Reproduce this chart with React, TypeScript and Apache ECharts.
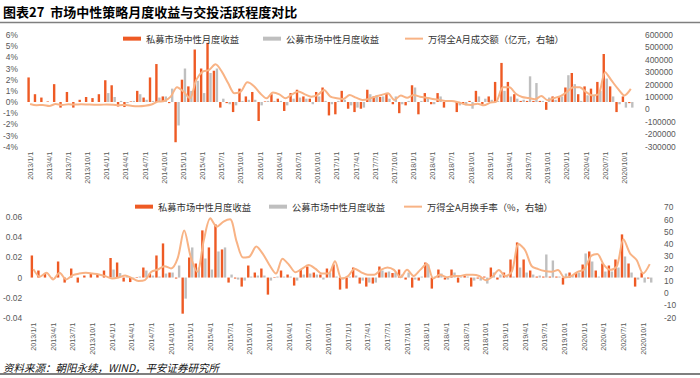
import React, { useEffect, useRef } from 'react';
import * as echarts from 'echarts';

// Categories: 2013/1/1 ... 2020/11/1 (monthly)
const FIRST_YEAR = 2013;
const LAST_YEAR = 2020;
const LAST_MONTH = 11;
function buildMonths(): string[] {
  const out: string[] = [];
  for (let y = FIRST_YEAR; y <= LAST_YEAR; y++) {
    for (let m = 1; m <= 12; m++) {
      if (y === LAST_YEAR && m > LAST_MONTH) break;
      out.push(`${y}/${m}/1`);
    }
  }
  return out;
}
const months = buildMonths();

// 私募市场中性月度收益 (%)
const privateRet = [
  2.2, 0.7, 0.4, 0.05, 1.6, -0.5, 0.9, -0.5, 0.2, 0.45, 0.35, 0.7,
  1.95, 1.5, -0.4, -0.45, 0.05, 1.0, 0.4, 2.2, 3.4, 0.5, -0.1, -3.6,
  2.0, 1.4, 4.7, 3.0, 5.3, 2.8, -0.5, -0.1, -0.9, 1.2, 0.5, 0.9,
  -1.7, 0.05, 0.7, 0.3, -0.8, 0.8, 1.1, 0.5, 0.3, 0.9, 1.3, -1.2,
  -1.1, 1.0, -0.6, -0.9, -0.6, 1.1, 0.5, 0.45, 0.8, -0.2, -1.0, -0.3,
  1.5, -1.1, 0.8, -0.2, 0.8, -0.5, 0.15, -0.9, -0.1, 0.1, 1.0, -0.2,
  0.5, 1.8, 3.5, 1.8, 0.7, 0.1, 0.1, 0.1, 0.1, -0.7, 0.5, 0.5,
  1.3, 2.6, 0.7, 1.4, 1.2, 1.8, 4.3, 1.4, -0.9, 0.5, -0.1,
];

// 公募市场中性月度收益 (%)
const publicRet = [
  null, null, null, null, null, null, null, null, null, null, null, null,
  0.8, 0.45, 0.1, -0.1, 0.1, 0.7, 0.2, 0.1, 0.4, 0.5, 1.2, -2.1,
  3.0, 1.0, 1.9, 0.8, 2.6, 3.0, 0.3, -0.2, -0.3, 0.1, 0.2, 0.2,
  -0.3, 0.1, 0.1, 0.1, -0.3, 0.3, 0.4, 0.3, -0.2, 0.5, 0.1, -0.2,
  0.1, 0.2, -0.3, -0.5, -0.5, 0.7, 0.6, 0.5, 0.3, 0.5, -0.2, 0.1,
  1.3, 0.1, 0.4, -0.2, 0.5, 0.1, 0.1, -0.3, -0.3, -0.6, 0.5, 0.3,
  0.2, 0.1, 1.0, 0.5, 0.3, 0.2, 2.3, 1.7, 0.1, 0.4, 0.2, 0.5,
  2.4, 1.6, 0.1, 0.6, 0.6, 1.0, 2.1, 0.5, -0.2, -0.5, -0.5,
];

// 万得全A月成交额（亿元）
const turnoverAmt = [
  44000, 34000, 36000, 28000, 44000, 36000, 42000, 40000, 42000, 40000, 38000, 38000,
  40000, 38000, 34000, 36000, 28000, 26000, 30000, 40000, 63000, 68000, 103000, 180000,
  144000, 90000, 238000, 305000, 318000, 364000, 305000, 211000, 130000, 144000, 219000, 190000,
  130000, 90000, 136000, 122000, 90000, 122000, 144000, 122000, 103000, 117000, 157000, 103000,
  90000, 85000, 117000, 95000, 77000, 85000, 103000, 117000, 130000, 77000, 112000, 95000,
  117000, 103000, 95000, 85000, 77000, 69000, 69000, 58000, 42000, 36000, 47000, 34000,
  55000, 66000, 180000, 180000, 126000, 100000, 92000, 82000, 108000, 74000, 92000, 108000,
  140000, 180000, 180000, 140000, 113000, 126000, 300000, 232000, 166000, 113000, 166000,
];

// 万得全A月换手率（%）
const turnoverRate = [
  19.6, 13.4, 16.6, 11.2, 16.6, 11.2, 14.7, 16, 16.6, 16, 15.3, 13.9,
  12, 12.8, 14.4, 12.3, 10, 10.6, 17.4, 19.3, 22, 20.2, 28.3, 51,
  29.7, 17.4, 43.3, 61, 54.2, 58.3, 60.2, 42, 29, 30, 38, 32,
  23, 16, 28, 23, 17, 20, 23, 20, 16, 16, 26, 12,
  14, 20, 17, 15, 15, 19, 21, 19, 13, 19, 14, 19,
  24, 12, 15, 13, 14, 14, 15, 15, 14, 10.6, 13.4, 18.8,
  13.9, 18, 40, 35, 22, 19.6, 18, 17.4, 18.8, 12.8, 13.9, 17.4,
  19.3, 30, 32, 23, 19, 22, 44, 32.4, 27, 16, 23.7,
];

const NAME_PRIV = '私募市场中性月度收益';
const NAME_PUB = '公募市场中性月度收益';
const NAME_AMT = '万得全A月成交额（亿元，右轴）';
const NAME_RATE = '万得全A月换手率（%，右轴）';
const TITLE = '图表27  市场中性策略月度收益与交投活跃程度对比';
const SOURCE = '资料来源：朝阳永续，WIND，平安证券研究所';

const ORANGE = '#EE5A24';
const GRAY = '#BFBFBF';
const LINE = '#F8B385';
const LABEL_COLOR = '#595959';
const NUM_FONT = '"Liberation Sans", Arial, sans-serif';
const CJK_FONT = '"Noto Sans CJK SC", sans-serif';

export default function App() {
  const ref = useRef<HTMLDivElement>(null);
  useEffect(() => {
    if (!ref.current) return;
    const chart = echarts.init(ref.current, undefined, { renderer: 'svg' });
    const yLabel = (extra: any) => ({
      color: LABEL_COLOR,
      fontFamily: NUM_FONT,
      fontSize: 8.4,
      ...extra,
    });
    const hidden = { show: false };
    const xAxisFor = (g: number) => ({
      type: 'category',
      gridIndex: g,
      data: months,
      boundaryGap: true,
      axisLine: { show: false, onZero: false },
      axisTick: hidden,
      splitLine: hidden,
      axisLabel: {
        interval: 2,
        rotate: 90,
        fontSize: 7.2,
        color: LABEL_COLOR,
        fontFamily: NUM_FONT,
        margin: 5,
      },
    });
    const legendItem = (left: number, top: number, name: string) => ({
      left,
      top,
      data: [name],
      icon: 'rect',
      itemWidth: 18,
      itemHeight: name === NAME_AMT || name === NAME_RATE ? 2 : 4,
      itemGap: 0,
      selectedMode: false,
      textStyle: { fontSize: 9.3, color: '#333', fontFamily: CJK_FONT },
    });
    const option: any = {
      animation: false,
      textStyle: { fontFamily: CJK_FONT },
      grid: [
        { left: 26, top: 35, width: 608, height: 111.7 },
        { left: 30, top: 207.3, width: 623, height: 110.4 },
      ],
      xAxis: [xAxisFor(0), xAxisFor(1)],
      yAxis: [
        {
          type: 'value', gridIndex: 0, position: 'left', min: -4, max: 6, interval: 1,
          axisLine: hidden, axisTick: hidden, splitLine: hidden,
          axisLabel: yLabel({ margin: 9, formatter: (v: number) => `${v}%` }),
        },
        {
          type: 'value', gridIndex: 0, position: 'right', min: -300000, max: 600000, interval: 100000,
          axisLine: hidden, axisTick: hidden, splitLine: hidden,
          axisLabel: yLabel({ margin: 11, formatter: (v: number) => String(v) }),
        },
        {
          type: 'value', gridIndex: 1, position: 'left', min: -4, max: 7, interval: 2,
          axisLine: hidden, axisTick: hidden, splitLine: hidden,
          axisLabel: yLabel({
            margin: 8,
            showMaxLabel: false,
            formatter: (v: number) => String(parseFloat((v / 100).toFixed(2))),
          }),
        },
        {
          type: 'value', gridIndex: 1, position: 'right', min: -20, max: 70, interval: 10,
          axisLine: hidden, axisTick: hidden, splitLine: hidden,
          axisLabel: yLabel({ margin: 11, formatter: (v: number) => String(v) }),
        },
      ],
      legend: [
        legendItem(118, 29, NAME_PRIV),
        legendItem(258, 29, NAME_PUB),
        legendItem(400, 29, NAME_AMT),
        legendItem(130, 197, NAME_PRIV),
        legendItem(264, 197, NAME_PUB),
        legendItem(399, 197, NAME_RATE),
      ],
      series: [
        {
          name: NAME_PRIV, type: 'bar', xAxisIndex: 0, yAxisIndex: 0, data: privateRet,
          barWidth: 2.4, barGap: '25%', itemStyle: { color: ORANGE },
        },
        {
          name: NAME_PUB, type: 'bar', xAxisIndex: 0, yAxisIndex: 0, data: publicRet,
          barWidth: 2.4, barGap: '25%', itemStyle: { color: GRAY },
        },
        {
          name: NAME_AMT, type: 'line', xAxisIndex: 0, yAxisIndex: 1, data: turnoverAmt,
          symbol: 'none', smooth: 0.3, lineStyle: { color: LINE, width: 2 }, itemStyle: { color: LINE },
        },
        {
          name: NAME_PRIV, type: 'bar', xAxisIndex: 1, yAxisIndex: 2, data: privateRet,
          barWidth: 2.4, barGap: '25%', itemStyle: { color: ORANGE },
        },
        {
          name: NAME_PUB, type: 'bar', xAxisIndex: 1, yAxisIndex: 2, data: publicRet,
          barWidth: 2.4, barGap: '25%', itemStyle: { color: GRAY },
        },
        {
          name: NAME_RATE, type: 'line', xAxisIndex: 1, yAxisIndex: 3, data: turnoverRate,
          symbol: 'none', smooth: 0.3, lineStyle: { color: LINE, width: 2 }, itemStyle: { color: LINE },
        },
      ],
      graphic: [
        {
          type: 'text', left: 3, top: 5,
          style: { text: TITLE, fontSize: 13, fontWeight: 'bold', fontFamily: CJK_FONT, fill: '#000' },
        },
        {
          type: 'line', shape: { x1: 0, y1: 22.5, x2: 700, y2: 22.5 },
          style: { stroke: '#7f7f7f', lineWidth: 1.5 },
        },
        {
          type: 'text', left: 3, top: 362,
          style: { text: SOURCE, fontSize: 10.5, fontStyle: 'italic', fontFamily: CJK_FONT, fill: '#111' },
        },
        {
          type: 'line', shape: { x1: 0, y1: 374, x2: 700, y2: 374 },
          style: { stroke: '#7f7f7f', lineWidth: 2 },
        },
      ],
    };
    chart.setOption(option);
    return () => chart.dispose();
  }, []);
  return (
    <div
      ref={ref}
      style={{ position: 'absolute', left: 0, top: 0, width: 700, height: 378, background: '#fff' }}
    />
  );
}
